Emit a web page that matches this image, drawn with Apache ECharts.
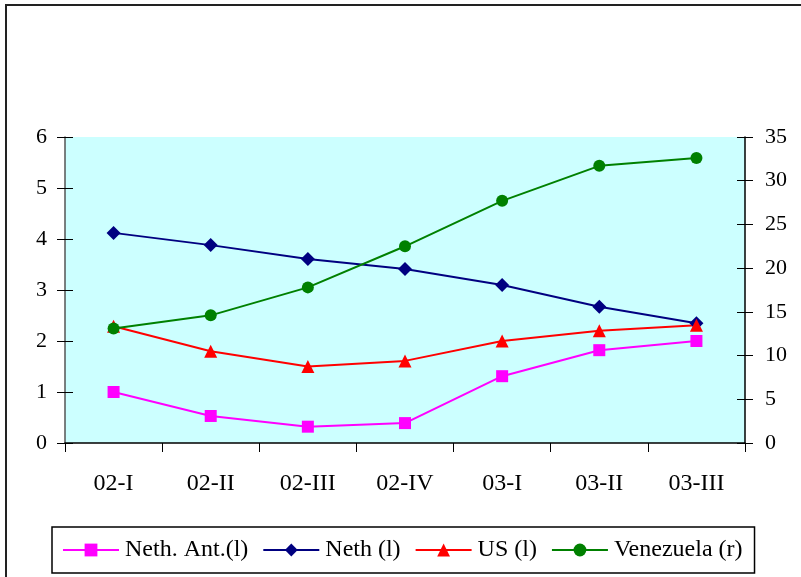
<!DOCTYPE html>
<html>
<head>
<meta charset="utf-8">
<script src="https://cdn.jsdelivr.net/npm/echarts@6/dist/echarts.min.js"></script>
<style>html,body{margin:0;padding:0;background:#fff;}#c{width:801px;height:577px;}</style>
</head>
<body>
<div id="c"></div>
<script>
const categories = ['02-I','02-II','02-III','02-IV','03-I','03-II','03-III'];
const nethAnt = [1.0, 0.53, 0.32, 0.39, 1.31, 1.82, 2.0];
const neth = [4.12, 3.88, 3.61, 3.41, 3.1, 2.67, 2.35];
const us = [2.29, 1.8, 1.5, 1.61, 2.0, 2.2, 2.31];
const venezuela = [13.1, 14.6, 17.8, 22.5, 27.7, 31.7, 32.6];
const leftTicks = {min: 0, max: 6, interval: 1};
const rightTicks = {min: 0, max: 35, interval: 5};

const FONT = 'Liberation Serif';
const chart = echarts.init(document.getElementById('c'));
function yax(pos, t, inside, show) {
  return {
    type: 'value', position: pos, min: t.min, max: t.max, interval: t.interval,
    axisLine: {show: show, lineStyle: {color: pos === 'left' ? '#555' : '#000', width: 1.5}},
    axisTick: {show: true, inside: inside, length: 8, lineStyle: {color: '#000', width: 1}},
    axisLabel: {show: show, color: '#000', fontFamily: FONT, fontSize: 22, margin: pos === 'left' ? 18 : 20},
    splitLine: {show: false}
  };
}
function line(name, data, color, symbol, size, yIndex) {
  return {
    name: name, type: 'line', data: data, yAxisIndex: yIndex,
    symbol: symbol, symbolSize: size,
    lineStyle: {color: color, width: 2},
    itemStyle: {color: color},
    animation: false
  };
}
chart.setOption({
  animation: false,
  graphic: [{type: 'rect', shape: {x: 6, y: 5, width: 820, height: 600}, style: {fill: 'none', stroke: '#222', lineWidth: 2}, z: -1}],
  grid: {left: 65, right: 56, top: 137, bottom: 134, show: true, backgroundColor: '#CCFFFF', borderWidth: 0},
  xAxis: [{
    type: 'category', data: categories, boundaryGap: true,
    axisLine: {lineStyle: {color: '#000', width: 1.5}},
    axisTick: {show: true, length: 9, lineStyle: {color: '#000'}},
    axisLabel: {color: '#000', fontFamily: FONT, fontSize: 24, margin: 29}
  }],
  yAxis: [yax('left', leftTicks, false, true), yax('right', rightTicks, false, true),
          yax('left', leftTicks, true, false), yax('right', rightTicks, true, false)],
  legend: {
    left: 52, top: 527, orient: 'horizontal',
    borderColor: '#000', borderWidth: 1.5, padding: [11, 12, 11, 10],
    itemWidth: 56, itemHeight: 16, itemGap: 14,
    textStyle: {color: '#000', fontFamily: FONT, fontSize: 24, padding: [0, 0, 0, 1]},
    data: ['Neth. Ant.(l)', 'Neth (l)', 'US (l)', 'Venezuela (r)']
  },
  series: [
    line('Neth. Ant.(l)', nethAnt, '#FF00FF', 'rect', 12, 0),
    line('Neth (l)', neth, '#000080', 'diamond', 14, 0),
    line('US (l)', us, '#FF0000', 'triangle', 13, 0),
    line('Venezuela (r)', venezuela, '#008000', 'circle', 12, 1)
  ]
});
</script>
</body>
</html>
